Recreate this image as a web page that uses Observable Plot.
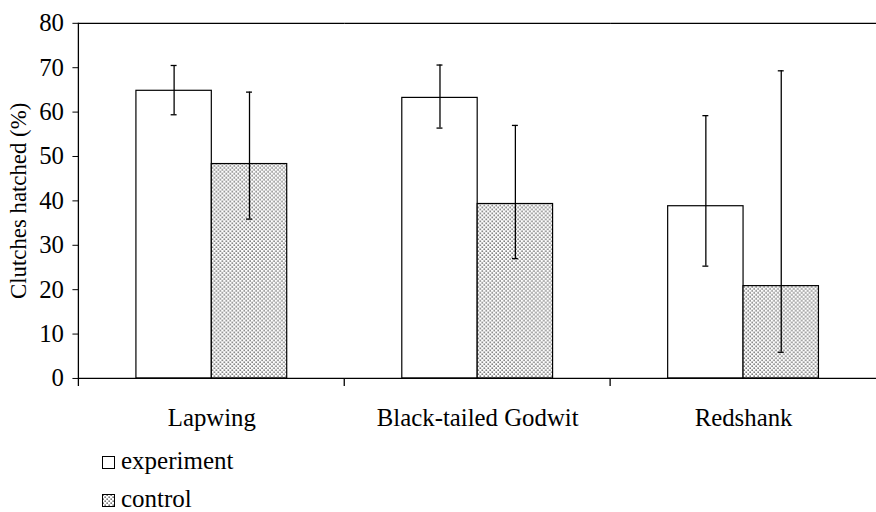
<!DOCTYPE html>
<html>
<head>
<meta charset="utf-8">
<script src="https://cdn.jsdelivr.net/npm/d3@7"></script>
<script src="https://cdn.jsdelivr.net/npm/@observablehq/plot@0.6"></script>
<style>
  html, body { margin: 0; padding: 0; background: #fff; overflow: hidden; width: 876px; height: 512px; }
  #chart { position: absolute; left: 0; top: 0; }
  #legend { position: absolute; left: 102px; top: 448px; font-family: "Liberation Serif", "DejaVu Serif", serif; font-size: 25px; line-height: 26px; color: #000; }
  #legend div { white-space: nowrap; height: 26px; }
  #legend div + div { margin-top: 12px; }
  #legend svg { vertical-align: baseline; margin-right: 6px; }
  #chart svg text { font-family: "Liberation Serif", "DejaVu Serif", serif; }
  #chart svg g[aria-label="y-axis label"] text { font-size: 23px; }
</style>
</head>
<body>
<div id="chart"></div>
<div id="legend"></div>
<script>
const species = ["Lapwing", "Black-tailed Godwit", "Redshank"];
const groups = ["experiment", "control"];
const experiment = [64.8, 63.2, 38.8];
const experimentLow = [59.4, 56.4, 25.3];
const experimentHigh = [70.5, 70.6, 59.2];
const control = [48.3, 39.3, 20.8];
const controlLow = [35.9, 27.0, 5.9];
const controlHigh = [64.5, 57.0, 69.3];
const yTicks = [0, 10, 20, 30, 40, 50, 60, 70, 80];
const yLabel = "Clutches hatched (%)";

const rows = [];
species.forEach((s, i) => {
  rows.push({species: s, group: groups[0], value: experiment[i], lo: experimentLow[i], hi: experimentHigh[i]});
  rows.push({species: s, group: groups[1], value: control[i], lo: controlLow[i], hi: controlHigh[i]});
});

const width = 883, height = 440, marginLeft = 78, marginRight = 0, marginTop = 23, marginBottom = 59;
const font = "Liberation Serif, DejaVu Serif, serif";

const defs = () => {
  const d = d3.create("svg:defs");
  const p = d.append("pattern").attr("id", "dots").attr("patternUnits", "userSpaceOnUse")
    .attr("width", 4).attr("height", 4);
  p.append("rect").attr("width", 4).attr("height", 4).attr("fill", "#fff");
  p.append("rect").attr("x", 0.5).attr("y", 0.5).attr("width", 1.3).attr("height", 1.3).attr("fill", "#333");
  p.append("rect").attr("x", 2.5).attr("y", 2.5).attr("width", 1.3).attr("height", 1.3).attr("fill", "#333");
  return d.node();
};

const plot = Plot.plot({
  width, height, marginLeft, marginRight, marginTop, marginBottom,
  style: {fontFamily: font, fontSize: "25px", color: "#000", background: "#fff", overflow: "visible"},
  fx: {domain: species, padding: 0, tickSize: 0, tickPadding: 30, label: null},
  x: {domain: groups, paddingInner: 0, paddingOuter: 0.744, axis: null},
  y: {domain: [0, 80], ticks: yTicks, tickSize: 6, tickPadding: 9, tickFormat: d => String(d),
      label: yLabel, labelAnchor: "center", labelOffset: 70, labelArrow: "none"},
  marks: [
    defs,
    Plot.barY(rows.filter(d => d.group === "experiment"), {fx: "species", x: "group", y: "value", fill: "#fff", stroke: "#000", strokeWidth: 1.2}),
    Plot.barY(rows.filter(d => d.group === "control"), {fx: "species", x: "group", y: "value", fill: "url(#dots)", stroke: "#000", strokeWidth: 1.2}),
    Plot.ruleX(rows, {fx: "species", x: "group", y1: "lo", y2: "hi", stroke: "#000", strokeWidth: 1.3}),
    Plot.tickY(rows, {fx: "species", x: "group", y: "lo", stroke: "#000", strokeWidth: 1.3, insetLeft: 35, insetRight: 35}),
    Plot.tickY(rows, {fx: "species", x: "group", y: "hi", stroke: "#000", strokeWidth: 1.3, insetLeft: 35, insetRight: 35}),
    Plot.ruleY([0, 80], {stroke: "#000", strokeWidth: 1.3})
  ]
});

// axis line and category boundary ticks, placed with the plot's own scales
const fxs = plot.scale("fx"), ys = plot.scale("y");
const svg = d3.select(plot);
const y0 = ys.apply(0), y80 = ys.apply(80);
const g = svg.append("g").attr("stroke", "#000").attr("stroke-width", 1.3);
g.append("line").attr("x1", fxs.apply(species[0])).attr("x2", fxs.apply(species[0]))
  .attr("y1", y80).attr("y2", y0 + 8);
species.slice(1).forEach(s => {
  const x = fxs.apply(s);
  g.append("line").attr("x1", x).attr("x2", x).attr("y1", y0).attr("y2", y0 + 8);
});

document.getElementById("chart").appendChild(plot);

const legend = document.getElementById("legend");
groups.forEach(gname => {
  const div = document.createElement("div");
  const fill = gname === "control" ? "url(#dots)" : "#fff";
  div.innerHTML = `<svg width="13" height="13"><rect x="0.5" y="0.5" width="12" height="12" fill="${fill}" stroke="#000" stroke-width="1"/></svg>${gname}`;
  legend.appendChild(div);
});
</script>
</body>
</html>
